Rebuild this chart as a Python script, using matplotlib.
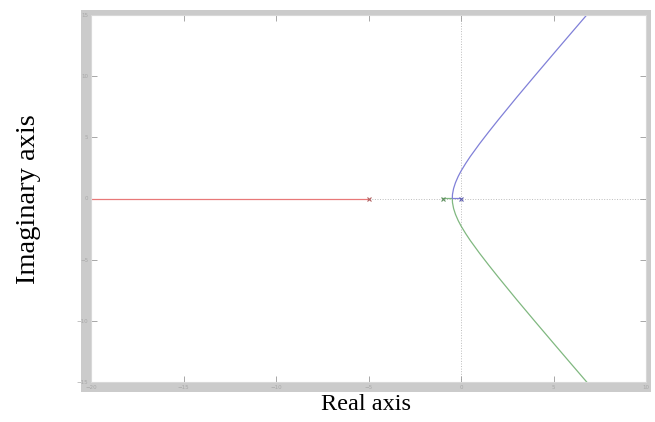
import matplotlib
matplotlib.use("Agg")
import matplotlib.pyplot as plt

# ---- Root locus branches ----
blue_re = [0.0, -0.2, -0.47, -0.46, -0.4, -0.3, -0.15, 0.0, 0.25, 0.5, 1.0, 1.5, 2.0, 3.0, 4.0, 5.0, 6.0, 7.0]
blue_im = [0.0, 0.0, 0.0, 0.34, 0.82, 1.29, 1.81, 2.24, 2.86, 3.43, 4.47, 5.45, 6.4, 8.25, 10.05, 11.83, 13.6, 15.36]

green_re = [-1.0, -0.75, -0.47, -0.46, -0.4, -0.3, -0.15, 0.0, 0.25, 0.5, 1.0, 1.5, 2.0, 3.0, 4.0, 5.0, 6.0, 7.0]
green_im = [0.0, 0.0, 0.0, -0.34, -0.82, -1.29, -1.81, -2.24, -2.86, -3.43, -4.47, -5.45, -6.4, -8.25, -10.05, -11.83, -13.6, -15.36]

red_re = [-5.0, -12.0, -25.0]
red_im = [0.0, 0.0, 0.0]

poles_re = [-5.0, -1.0, 0.0]
poles_im = [0.0, 0.0, 0.0]
pole_colors = ["#b06060", "#609060", "#6060b0"]

x_ticks = [-20, -15, -10, -5, 0, 5, 10]
y_ticks = [-15, -10, -5, 0, 5, 10, 15]

W, H = 655, 422
fig = plt.figure(figsize=(W / 100, H / 100), dpi=100)
fig.patch.set_facecolor("white")

# grey frame around the plot box
ax_bg = fig.add_axes([81 / W, (H - 392) / H, 570 / W, 382 / H], zorder=0)
ax_bg.set_facecolor("#cbcbcb")
ax_bg.set_xticks([])
ax_bg.set_yticks([])
for s in ax_bg.spines.values():
    s.set_visible(False)

ax = fig.add_axes([91 / W, (H - 382) / H, 555 / W, 367 / H], zorder=1)
ax.set_facecolor("white")

ax.axhline(0, color="#bcbcbc", linestyle=":", linewidth=0.7, zorder=1)
ax.axvline(0, color="#bcbcbc", linestyle=":", linewidth=0.7, zorder=1)

ax.plot(red_re, red_im, color="#e87878", linewidth=0.9, zorder=2)
ax.plot(green_re, green_im, color="#80b880", linewidth=0.9, zorder=2)
ax.plot(blue_re, blue_im, color="#8080d8", linewidth=0.9, zorder=2)

for px, py, c in zip(poles_re, poles_im, pole_colors):
    ax.plot(px, py, marker="x", markersize=2.5, color=c, markeredgewidth=0.8, zorder=3)

ax.set_xlim(-20, 10)
ax.set_ylim(-15, 15)
ax.set_xticks(x_ticks)
ax.set_yticks(y_ticks)
ax.tick_params(direction="in", length=4, width=0.6, color="#999999",
               top=True, right=True, labelsize=4, labelcolor="#a8a8a8", pad=2)
for s in ax.spines.values():
    s.set_color("#d8d8d8")
    s.set_linewidth(0.8)

fig.text(366 / W, 1 - 405 / H, "Real axis", family="Liberation Serif",
         fontsize=17.5, ha="center", va="center")
fig.text(29 / W, 1 - 199 / H, "Imaginary axis", family="Liberation Serif",
         fontsize=20.5, ha="center", va="center", rotation=90)

fig.savefig("out.png", dpi=100)
plt.close(fig)
